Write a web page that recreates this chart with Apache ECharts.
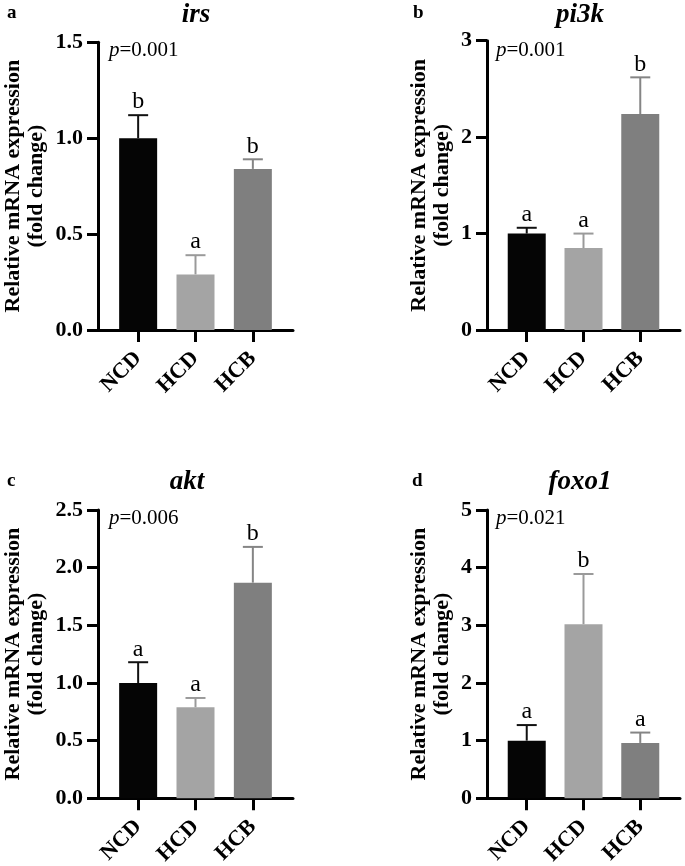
<!DOCTYPE html>
<html>
<head>
<meta charset="utf-8">
<script src="https://cdn.jsdelivr.net/npm/echarts@6/dist/echarts.min.js"></script>
<style>
html,body{margin:0;padding:0;background:#fff;}
#chart{width:685px;height:866px;}
</style>
</head>
<body>
<div id="chart"></div>
<script>
// ---- data ----
const categories = ['NCD', 'HCD', 'HCB'];

const irsMean = [1.00, 0.29, 0.84];
const irsErr = [0.12, 0.10, 0.05];
const irsLetters = ['b', 'a', 'b'];

const pi3kMean = [1.00, 0.85, 2.24];
const pi3kErr = [0.06, 0.15, 0.38];
const pi3kLetters = ['a', 'a', 'b'];

const aktMean = [1.00, 0.79, 1.87];
const aktErr = [0.18, 0.08, 0.31];
const aktLetters = ['a', 'a', 'b'];

const foxo1Mean = [1.00, 3.02, 0.96];
const foxo1Err = [0.27, 0.87, 0.18];
const foxo1Letters = ['a', 'b', 'a'];

const geneNames = ['irs', 'pi3k', 'akt', 'foxo1'];
const panelLetters = ['a', 'b', 'c', 'd'];
const pValues = ['=0.001', '=0.001', '=0.006', '=0.021'];
const yMax = [1.5, 3, 2.5, 5];
const yInterval = [0.5, 1, 0.5, 1];
const yDecimals = [1, 0, 1, 0];

// ---- styling ----
const SERIF = '"Liberation Serif", "Times New Roman", serif';
const barColors = ['#050505', '#a4a4a4', '#7f7f7f'];
const errColors = ['#111111', '#9a9a9a', '#858585'];

const panels = [
  {mean: irsMean, err: irsErr, letters: irsLetters},
  {mean: pi3kMean, err: pi3kErr, letters: pi3kLetters},
  {mean: aktMean, err: aktErr, letters: aktLetters},
  {mean: foxo1Mean, err: foxo1Err, letters: foxo1Letters}
];

const grids = [
  {left: 98, top: 42.3, width: 195, height: 287.7},
  {left: 487, top: 40.7, width: 193, height: 289.3},
  {left: 98, top: 510, width: 195, height: 288.3},
  {left: 487, top: 510, width: 193, height: 288.3}
];
const nameGaps = [50, 33, 50, 33];

const xAxes = [], yAxes = [], series = [];
panels.forEach((p, k) => {
  xAxes.push({
    type: 'value', gridIndex: k, min: -0.7, max: 2.7,
    splitLine: {show: false},
    axisLine: {show: true, onZero: false, lineStyle: {color: '#000', width: 3}},
    axisTick: {show: true, customValues: [0, 1, 2], length: 12, lineStyle: {color: '#000', width: 3}},
    axisLabel: {
      show: true, customValues: [0, 1, 2], rotate: 45, margin: 25,
      formatter: v => categories[Math.round(v)] || '',
      color: '#000', fontFamily: SERIF, fontWeight: 'bold', fontSize: 22
    }
  });
  yAxes.push({
    type: 'value', gridIndex: k, min: 0, max: yMax[k], interval: yInterval[k],
    splitLine: {show: false},
    axisLine: {show: true, onZero: false, lineStyle: {color: '#000', width: 3}},
    axisTick: {show: true, length: 11, lineStyle: {color: '#000', width: 3}},
    axisLabel: {
      margin: 15, color: '#000', fontFamily: SERIF, fontWeight: 'bold', fontSize: 22,
      formatter: v => v.toFixed(yDecimals[k])
    },
    name: 'Relative mRNA expression\n(fold change)',
    nameLocation: 'middle', nameGap: nameGaps[k],
    nameTextStyle: {color: '#000', fontFamily: SERIF, fontWeight: 'bold', fontSize: 22, lineHeight: 23, align: 'center'}
  });
  series.push({
    type: 'bar', xAxisIndex: k, yAxisIndex: k, barWidth: 38,
    data: p.mean.map((v, i) => ({value: [i, v], itemStyle: {color: barColors[i]}})),
    z: 2
  });
  series.push({
    type: 'custom', xAxisIndex: k, yAxisIndex: k, z: 3,
    data: p.mean.map((v, i) => [i, v, p.err[i]]),
    renderItem: (params, api) => {
      const i = api.value(0), v = api.value(1), e = api.value(2);
      const b = api.coord([i, v]);
      const t = api.coord([i, v + e]);
      const c = errColors[i];
      return {
        type: 'group',
        children: [
          {type: 'line', shape: {x1: b[0], y1: b[1], x2: t[0], y2: t[1]}, style: {stroke: c, lineWidth: 2}},
          {type: 'line', shape: {x1: t[0] - 10, y1: t[1], x2: t[0] + 10, y2: t[1]}, style: {stroke: c, lineWidth: 2}},
          {type: 'text', x: t[0], y: t[1] - 1,
           style: {text: p.letters[i], fill: '#000', font: '24px ' + SERIF, textAlign: 'center', textVerticalAlign: 'bottom'}}
        ]
      };
    }
  });
});

// ---- annotations (titles, panel letters, p-values) ----
const titlePos = [[196, 2], [580, 2], [187, 469], [580, 469]];
const panelPos = [[7, 4], [413, 4], [7, 472], [412, 472]];
const pPos = [[109, 40], [496, 40], [109, 508], [496, 508]];
const graphics = [];
for (let k = 0; k < 4; k++) {
  graphics.push({type: 'text', x: titlePos[k][0], y: titlePos[k][1],
    style: {text: geneNames[k], fill: '#000', font: 'italic bold 27px ' + SERIF, textAlign: 'center', textVerticalAlign: 'top'}});
  graphics.push({type: 'text', x: panelPos[k][0], y: panelPos[k][1],
    style: {text: panelLetters[k], fill: '#000', font: 'bold 19px ' + SERIF, textAlign: 'left', textVerticalAlign: 'top'}});
  graphics.push({type: 'text', x: pPos[k][0], y: pPos[k][1],
    style: {
      text: '{i|p}{n|' + pValues[k] + '}', textAlign: 'left', textVerticalAlign: 'top',
      rich: {
        i: {fontFamily: SERIF, fontStyle: 'italic', fontSize: 21, fill: '#000'},
        n: {fontFamily: SERIF, fontSize: 21, fill: '#000'}
      }
    }});
}

const chart = echarts.init(document.getElementById('chart'), null, {renderer: 'canvas'});
chart.setOption({
  backgroundColor: '#fff',
  animation: false,
  grid: grids.map(g => Object.assign({containLabel: false, outerBoundsMode: 'none'}, g)),
  xAxis: xAxes,
  yAxis: yAxes,
  series: series,
  graphic: graphics
});
</script>
</body>
</html>
